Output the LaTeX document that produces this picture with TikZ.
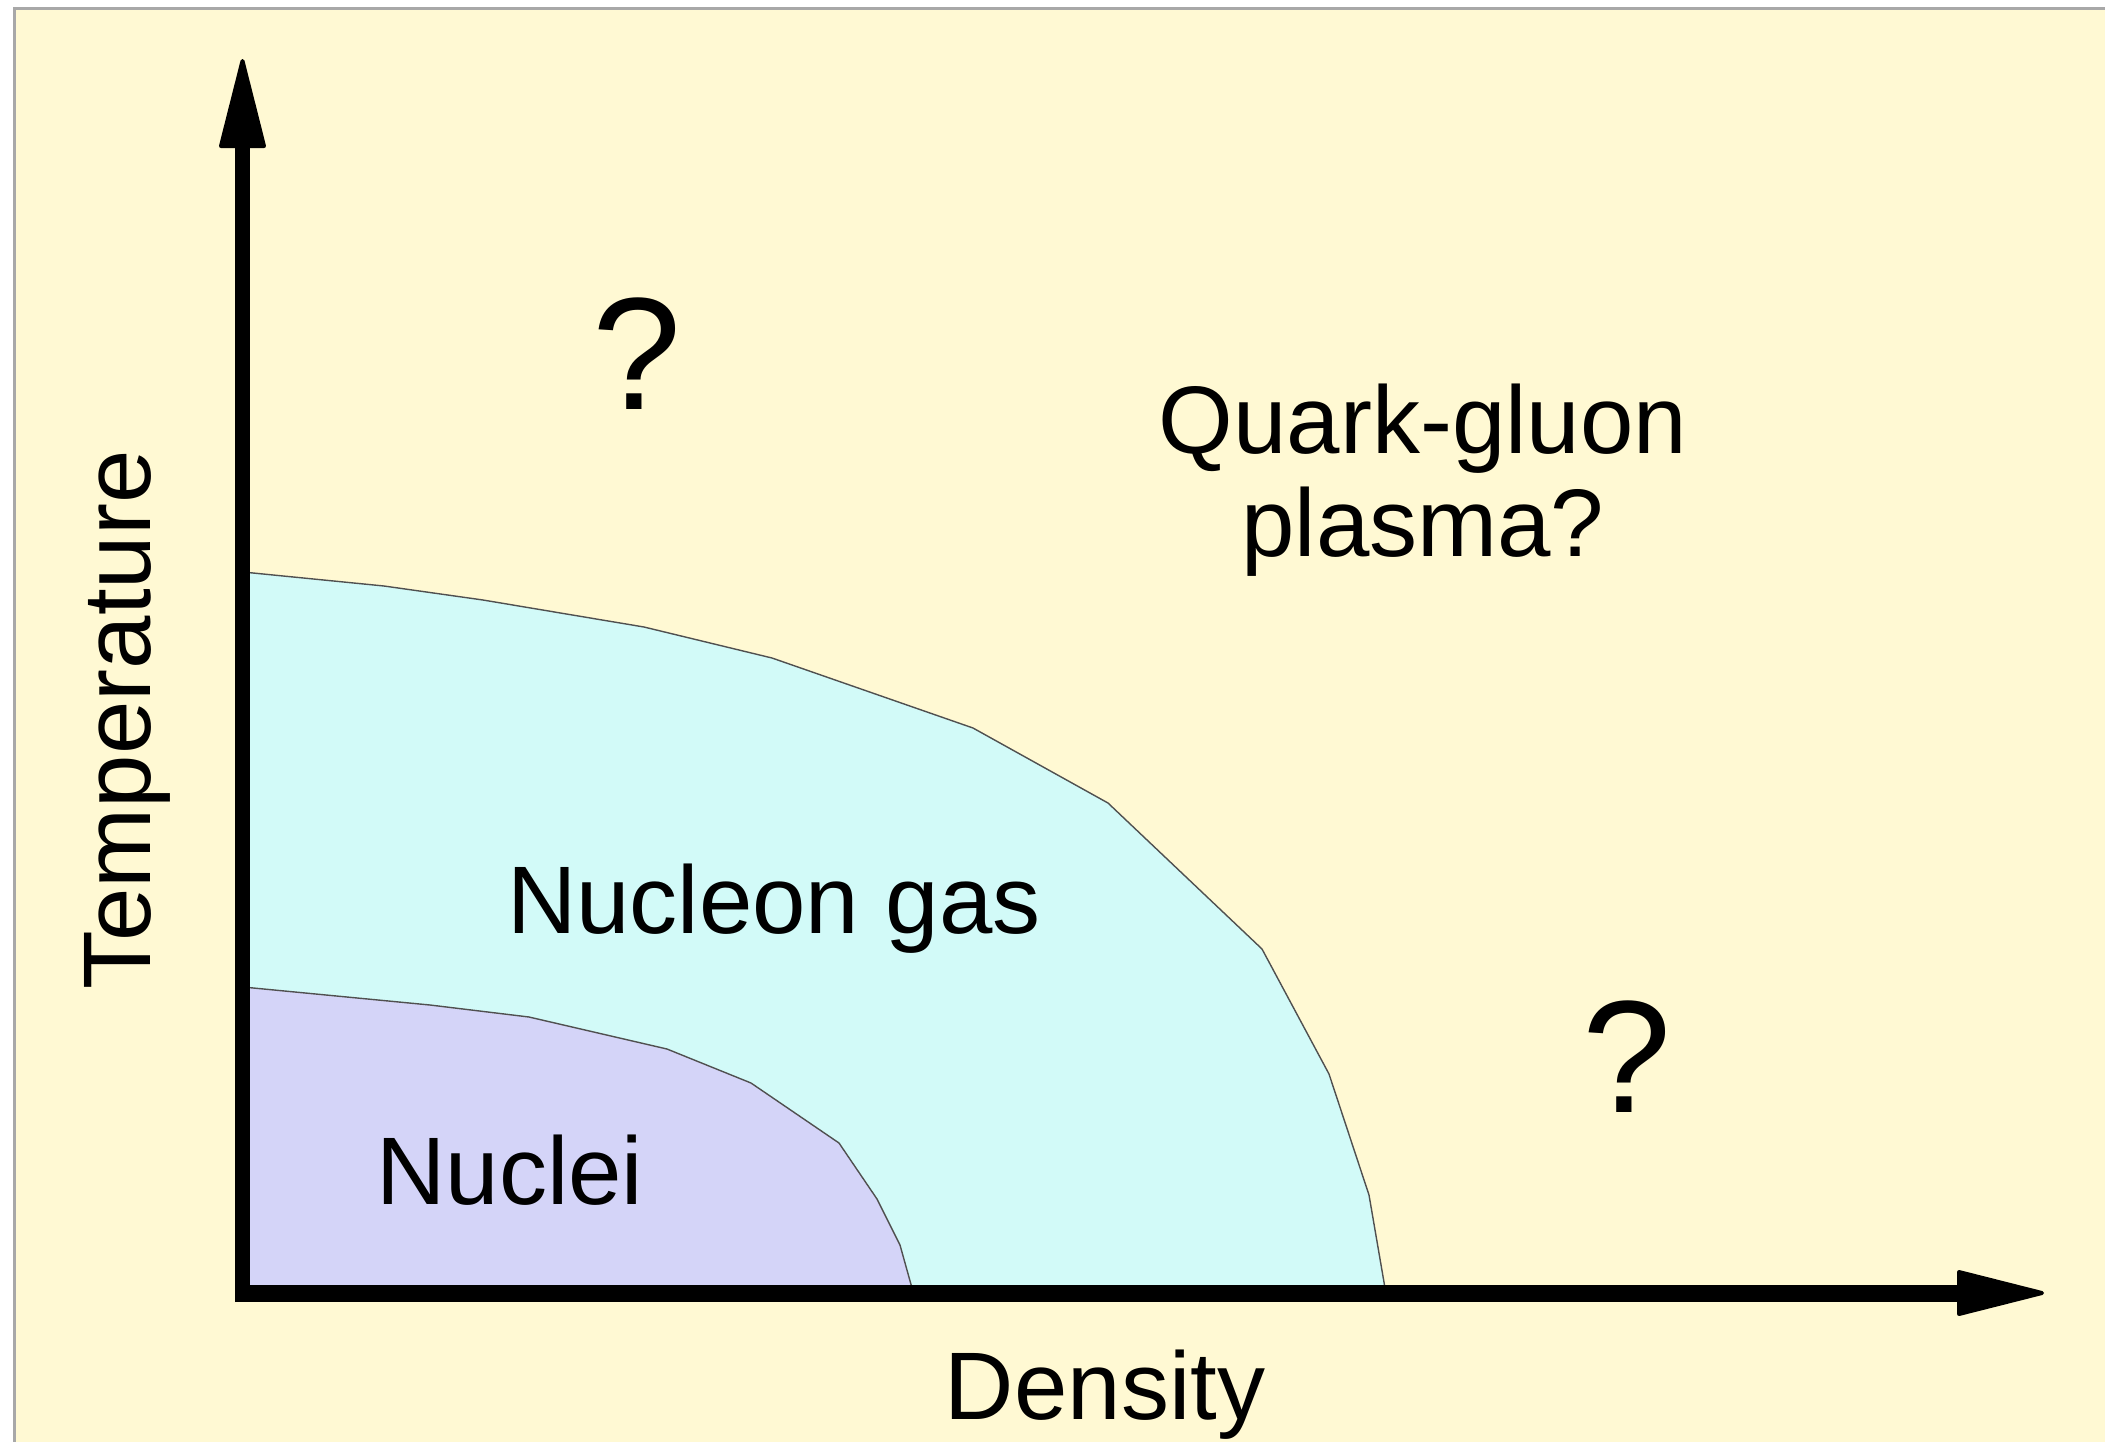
\documentclass[tikz,border=0pt]{standalone}
\usepackage{fontspec}
\setmainfont{Liberation Sans}
\definecolor{cream}{HTML}{FFF9D3}
\definecolor{framegray}{HTML}{A8A8A8}
\definecolor{gascol}{HTML}{D2FAF8}
\definecolor{nuccol}{HTML}{D4D4F8}
\definecolor{edgecol}{HTML}{505050}
\begin{document}
\begin{tikzpicture}[x=1pt,y=-1pt,
  lbl/.style={inner sep=0pt,anchor=base,font=\fontsize{96}{105}\selectfont},
  qmark/.style={inner sep=0pt,anchor=base,font=\fontsize{160}{170}\selectfont},
  region/.style={draw=edgecol,line width=1.4pt,line join=round},
  axisline/.style={draw=black},
  axishead/.style={fill=black,draw=black,line width=4pt,line join=round}]
\useasboundingbox (0,0) rectangle (2105,1441);
\fill[white] (0,0) rectangle (2105,1441);
\fill[cream] (14,8) rectangle (2110,1450);
\draw[framegray,line width=3pt] (14,1450) -- (14,8) -- (2110,8);
% regions
\draw[region,fill=gascol] (243,572) -- (384,586) -- (483,600) -- (644,627) -- (772,658) -- (973,728) -- (1108,803) -- (1262,949) -- (1329,1074) -- (1369,1195) -- (1385,1288) -- (243,1288) -- cycle;
\draw[region,fill=nuccol] (243,987) -- (430,1005) -- (529,1017) -- (667,1049) -- (751,1083) -- (839,1143) -- (877,1199) -- (900,1245) -- (912,1288) -- (243,1288) -- cycle;
% axes
\coordinate (ybot) at (242.5,1302);
\coordinate (ytop) at (242.5,146);
\coordinate (xbeg) at (235,1293);
\coordinate (xend) at (1959,1293);
\draw[axisline,line width=15pt] (ybot) -- (ytop);
\draw[axisline,line width=17pt] (xbeg) -- (xend);
\draw[axishead] (221,146) -- (264,146) -- (242.5,61) -- cycle;
\draw[axishead] (1959,1272) -- (1959,1314) -- (2042,1293) -- cycle;
% labels
\node[qmark] (q1) at (637,409) {?};
\node[qmark] (q2) at (1627,1112) {?};
\node[lbl] (qgp1) at (1423,453) {Quark-gluon};
\node[lbl] (qgp2) at (1423,556) {plasma?};
\node[lbl] (gas) at (774,933) {Nucleon gas};
\node[lbl] (nuc) at (510,1204) {Nuclei};
\node[lbl] (dens) at (1105,1419) {Density};
\node[lbl,rotate=90] (temp) at (150,720) {Temperature};
\end{tikzpicture}
\end{document}
